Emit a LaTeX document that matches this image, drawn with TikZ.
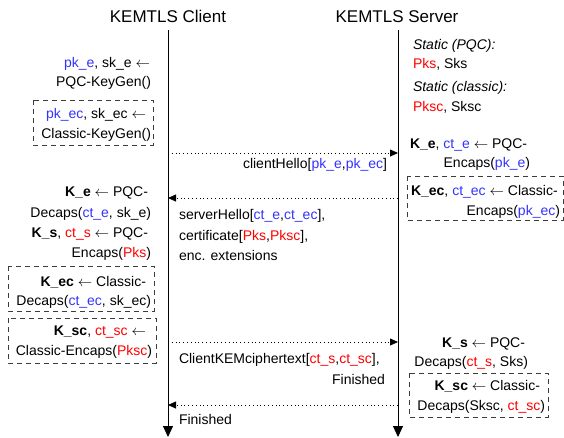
\documentclass[tikz,border=0pt]{standalone}
\usepackage{fontspec}
\setmainfont{Liberation Sans}
\usetikzlibrary{arrows.meta}
\definecolor{kblue}{RGB}{51,51,255}
\definecolor{kred}{RGB}{255,0,0}
\definecolor{kbox}{RGB}{60,60,60}
\newcommand\kb[1]{\textcolor{kblue}{#1}}
\newcommand\kr[1]{\textcolor{kred}{#1}}
\newcommand\la{\ensuremath{\leftarrow}}
\begin{document}
\begin{tikzpicture}[x=1pt,y=-1pt,
  every node/.style={inner sep=0pt,outer sep=0pt,font=\fontsize{14}{20}\selectfont},
  title/.style={font=\fontsize{17}{20}\selectfont,anchor=base},
  lt/.style={anchor=base east},
  rt/.style={anchor=base west},
  lifeline/.style={line width=1pt,-{Triangle[length=11pt,width=10pt]}},
  msg/.style={line width=0.8pt,dash pattern=on 0.8pt off 3pt,-{Triangle[length=8pt,width=7pt]}},
  dbox/.style={draw=kbox,line width=0.9pt,dash pattern=on 5pt off 4pt}]
\useasboundingbox (0,0) rectangle (564,437);
% titles
\node[title] (tc) at (168,22) {KEMTLS Client};
\node[title] (ts) at (397,22) {KEMTLS Server};
% lifelines
\coordinate (ctop) at (168,30);
\coordinate (cbot) at (168,437);
\coordinate (stop) at (398,30);
\coordinate (sbot) at (398,437);
\draw[lifeline] (ctop) -- (cbot);
\draw[lifeline] (stop) -- (sbot);
% message endpoints
\coordinate (c1) at (168,153); \coordinate (s1) at (398,153);
\coordinate (c2) at (168,198); \coordinate (s2) at (398,198);
\coordinate (c3) at (168,342); \coordinate (s3) at (398,342);
\coordinate (c4) at (168,405); \coordinate (s4) at (398,405);
\draw[msg] (c1) -- (s1);
\draw[msg] (s2) -- (c2);
\draw[msg] (c3) -- (s3);
\draw[msg] (s4) -- (c4);
% message labels
\node[lt] (m1) at (387,168) {clientHello[\kb{pk\_e},\kb{pk\_ec}]};
\node[rt] (m2a) at (179,219) {serverHello[\kb{ct\_e},\kb{ct\_ec}],};
\node[rt] (m2b) at (179,240) {certificate[\kr{Pks},\kr{Pksc}],};
\node[rt] (m2c) at (179,260) {enc. extensions};
\node[rt] (m3a) at (179,363) {ClientKEMciphertext[\kr{ct\_s},\kr{ct\_sc}],};
\node[lt] (m3b) at (385,384) {Finished};
\node[rt] (m4) at (179,424) {Finished};
% client side
\node[lt] (ck1) at (150,67) {\kb{pk\_e}, sk\_e \la};
\node[lt] (ck2) at (151,86) {PQC-KeyGen()};
\draw[dbox] (33,100) rectangle (153,145);
\node[lt] (ck3) at (146,118) {\kb{pk\_ec}, sk\_ec \la};
\node[lt] (ck4) at (151,138) {Classic-KeyGen()};
\node[lt] (cd1) at (148,196) {\textbf{K\_e} \la{} PQC-};
\node[lt] (cd2) at (151,217) {Decaps(\kb{ct\_e}, sk\_e)};
\node[lt] (ce1) at (148,237) {\textbf{K\_s}, \kr{ct\_s} \la{} PQC-};
\node[lt] (ce2) at (151,257) {Encaps(\kr{Pks})};
\draw[dbox] (8,266) rectangle (154,311);
\node[lt] (cd3) at (146,286) {\textbf{K\_ec} \la{} Classic-};
\node[lt] (cd4) at (151,305) {Decaps(\kb{ct\_ec}, sk\_ec)};
\draw[dbox] (8,318) rectangle (156,363);
\node[lt] (ce3) at (146,335) {\textbf{K\_sc}, \kr{ct\_sc} \la};
\node[lt] (ce4) at (152,355) {Classic-Encaps(\kr{Pksc})};
% server side
\node[rt] (ss1) at (413,49) {\itshape Static (PQC):};
\node[rt] (ss2) at (413,68) {\kr{Pks}, Sks};
\node[rt] (ss3) at (413,91) {\itshape Static (classic):};
\node[rt] (ss4) at (413,111) {\kr{Pksc}, Sksc};
\node[rt] (se1) at (410,148) {\textbf{K\_e}, \kb{ct\_e} \la{} PQC-};
\node[lt] (se2) at (530,167) {Encaps(\kb{pk\_e})};
\draw[dbox] (407,176) rectangle (563,220);
\node[rt] (se3) at (411,195) {\textbf{K\_ec}, \kb{ct\_ec} \la{} Classic-};
\node[lt] (se4) at (560,215) {Encaps(\kb{pk\_ec})};
\node[lt] (sd1) at (525,347) {\textbf{K\_s} \la{} PQC-};
\node[lt] (sd2) at (528,366) {Decaps(\kr{ct\_s}, Sks)};
\draw[dbox] (409,373) rectangle (548,417);
\node[lt] (sd3) at (540,390) {\textbf{K\_sc} \la{} Classic-};
\node[lt] (sd4) at (545,410) {Decaps(Sksc, \kr{ct\_sc})};
\end{tikzpicture}
\end{document}
